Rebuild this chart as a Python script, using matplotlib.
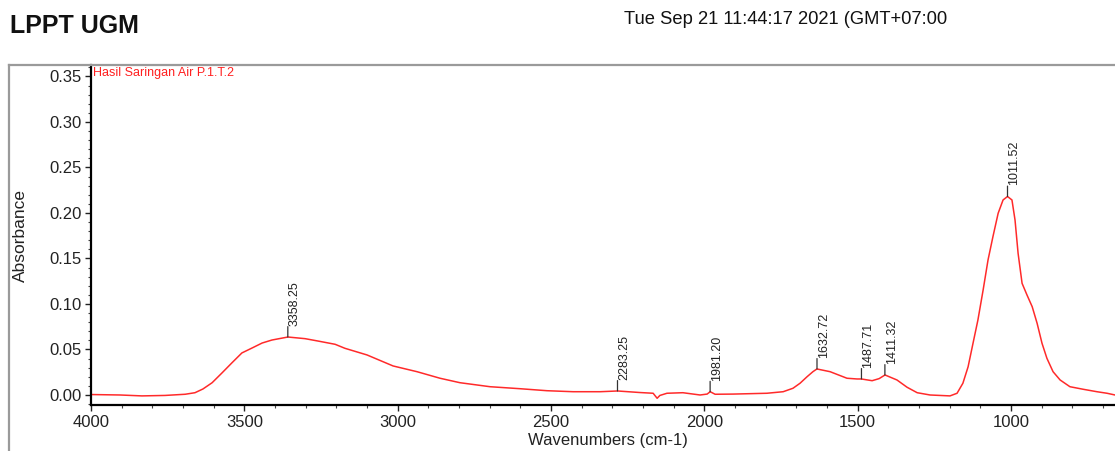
import numpy as np
import matplotlib.pyplot as plt
from matplotlib.lines import Line2D
from matplotlib.ticker import MultipleLocator, FormatStrFormatter

plt.rcParams['font.family'] = ['Liberation Sans', 'DejaVu Sans']

# FTIR spectrum (wavenumber cm-1, absorbance)
wavenumber = [4000, 3905, 3834, 3759, 3693, 3661, 3635, 3605, 3573, 3540,
              3508, 3475, 3442, 3410, 3358, 3302, 3260, 3204, 3172, 3100,
              3015, 2937, 2862, 2797, 2699, 2601, 2513, 2428, 2340, 2283,
              2210, 2167, 2154, 2145, 2122, 2070, 2014, 1991, 1981, 1965,
              1906, 1796, 1743, 1711, 1688, 1665, 1646, 1633, 1590, 1535,
              1502, 1488, 1453, 1430, 1411, 1372, 1339, 1306, 1264, 1199,
              1176, 1157, 1140, 1124, 1108, 1091, 1075, 1059, 1042, 1026,
              1011.5, 997, 987, 977, 964, 948, 931, 915, 899, 883,
              863, 840, 808, 765, 720, 687, 661]
absorbance = [0.0005, 0.0000, -0.0010, -0.0005, 0.0008, 0.0025, 0.0066, 0.0135, 0.0242, 0.0355,
              0.0462, 0.0516, 0.0571, 0.0604, 0.0637, 0.0619, 0.0593, 0.0557, 0.0513, 0.0440,
              0.0319, 0.0256, 0.0184, 0.0135, 0.0091, 0.0069, 0.0047, 0.0036, 0.0036, 0.0044,
              0.0027, 0.0019, -0.0036, -0.0005, 0.0019, 0.0025, 0.0000, 0.0010, 0.0036, 0.0008,
              0.0010, 0.0019, 0.0036, 0.0074, 0.0129, 0.0201, 0.0256, 0.0286, 0.0256, 0.0184,
              0.0176, 0.0176, 0.0157, 0.0180, 0.0220, 0.0165, 0.0085, 0.0025, 0.0000, -0.0010,
              0.0019, 0.0129, 0.0310, 0.0568, 0.0824, 0.1154, 0.1484, 0.1740, 0.1997, 0.2143,
              0.2181, 0.2143, 0.1923, 0.1557, 0.1227, 0.1099, 0.0970, 0.0788, 0.0568, 0.0403,
              0.0256, 0.0165, 0.0091, 0.0063, 0.0036, 0.0019, 0.0000]

peaks = [3358.25, 2283.25, 1981.20, 1632.72, 1487.71, 1411.32, 1011.52]
peak_labels = ['3358.25', '2283.25', '1981.20', '1632.72', '1487.71', '1411.32', '1011.52']

W, H = 1115, 451
fig = plt.figure(figsize=(W / 100, H / 100), dpi=100)
ax = fig.add_axes([91 / W, (H - 405) / H, 1 - 91 / W, (405 - 65) / H])

ax.plot(wavenumber, absorbance, color='#ff2a2a', lw=1.1)
ax.set_xlim(4000, 661)
ax.set_ylim(-0.011, 0.3626)

# peak markers: short tick + rotated value
wn_asc = np.array(wavenumber)[::-1]
ab_asc = np.array(absorbance)[::-1]
for p, lab in zip(peaks, peak_labels):
    y = np.interp(p, wn_asc, ab_asc)
    ax.annotate('', xy=(p, y), xytext=(0, 7.5), textcoords='offset points',
                arrowprops=dict(arrowstyle='-', color='#333333', lw=0.9,
                                shrinkA=0, shrinkB=0))
    ax.annotate(lab, xy=(p, y), xytext=(5, 8), textcoords='offset points',
                rotation=90, ha='center', va='bottom', fontsize=9, color='#222222')

ax.text(0.0015, 0.994, 'Hasil Saringan Air P.1.T.2', transform=ax.transAxes,
        ha='left', va='top', fontsize=9, color='#ff2020')

# axes styling
for s in ['top', 'right']:
    ax.spines[s].set_visible(False)
for s in ['left', 'bottom']:
    ax.spines[s].set_linewidth(1.6)
ax.xaxis.set_major_locator(MultipleLocator(500))
ax.xaxis.set_minor_locator(MultipleLocator(100))
ax.yaxis.set_major_locator(MultipleLocator(0.05))
ax.yaxis.set_minor_locator(MultipleLocator(0.01))
ax.yaxis.set_major_formatter(FormatStrFormatter('%.2f'))
ax.tick_params(which='major', length=4, width=1, labelsize=12, pad=3, colors='#222222')
ax.tick_params(which='minor', length=2.5, width=0.8, colors='#444444')

fig.text(20 / W, 1 - 235 / H, 'Absorbance', rotation=90, ha='center', va='center',
         fontsize=12.5, color='#222222')
fig.text(608 / W, 1 - 441 / H, 'Wavenumbers (cm-1)', ha='center', va='center',
         fontsize=12, color='#222222')

fig.text(10 / W, 1 - 26 / H, 'LPPT UGM', ha='left', va='center', fontsize=18,
         fontweight='bold', color='#111111')
fig.text(624 / W, 1 - 20 / H, 'Tue Sep 21 11:44:17 2021 (GMT+07:00', ha='left',
         va='center', fontsize=13.2, color='#111111')

# grey frame around the plot area
fig.add_artist(Line2D([9 / W, 1], [1 - 65 / H, 1 - 65 / H], color='#9a9a9a', lw=1.6))
fig.add_artist(Line2D([9 / W, 9 / W], [0, 1 - 65 / H], color='#9a9a9a', lw=1.6))

fig.savefig('out.png', dpi=100)
